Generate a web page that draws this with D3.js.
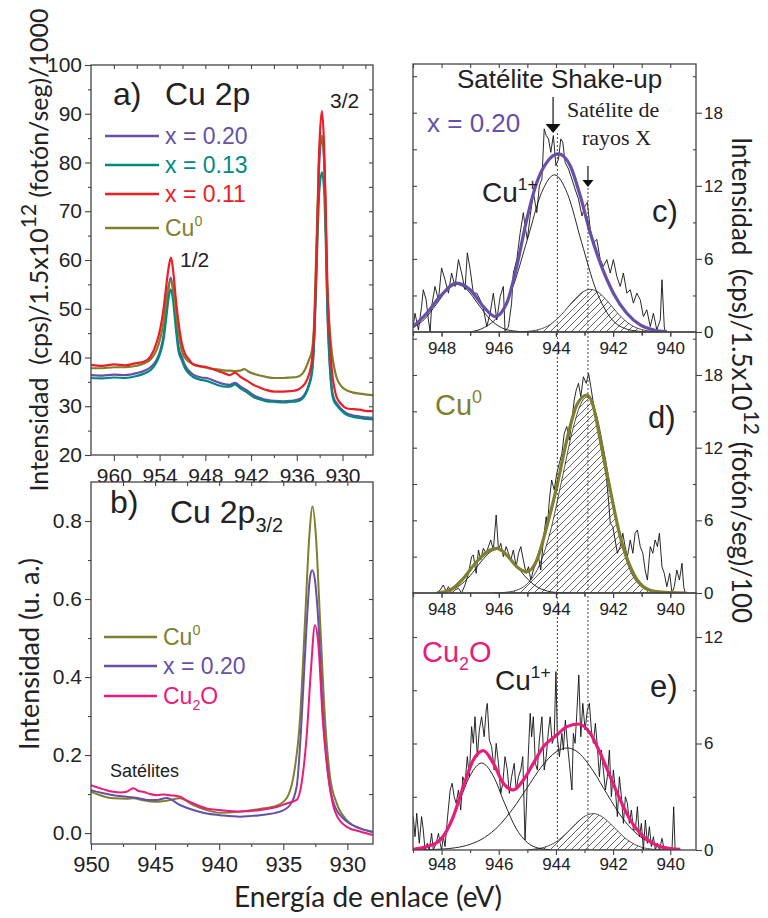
<!DOCTYPE html>
<html><head><meta charset="utf-8">
<script src="https://cdnjs.cloudflare.com/ajax/libs/d3/7.8.5/d3.min.js"></script>
<style>
body{margin:0;background:#fff}
svg text{white-space:pre}
</style></head>
<body><svg id="chart" width="768" height="918" font-family="'Liberation Sans', Arial, sans-serif"></svg>
<script>
// ---------------- DATA ----------------
// Panel a) Cu 2p survey  [binding energy (eV), intensity]
const aRed = [[963,38.5],[961.5,38.3],[960,38.6],[958.5,38.4],[957.2,38.8],[956,39.2],[955.2,40.2],[954.4,43],[953.9,46],[953.5,49.7],[953.1,55],[952.8,58.6],[952.5,60.5],[952.2,57.5],[951.9,52.5],[951.5,47],[951.1,43],[950.7,40.9],[950.1,39.5],[949.6,38.6],[948.6,38.2],[947.8,38],[946.8,37.5],[946.1,37.1],[945.4,36.7],[944.8,36.4],[944.1,36.9],[943.45,36.1],[942.5,35.2],[941.7,34.4],[940.8,33.8],[939.95,33.3],[938.9,33.0],[937.8,33.0],[936.8,33.1],[936,33.3],[935.3,34],[934.9,34.7],[934.4,36.5],[934,39.5],[933.7,46],[933.5,55.3],[933.25,70],[933.05,82.6],[932.7,90.6],[932.4,82.6],[932.2,70],[932,55.3],[931.7,45],[931.4,37.4],[931.1,34],[930.8,32],[930.2,30.5],[929.5,29.6],[928.6,29.4],[927.7,29.3],[926.8,29.0],[926,29.0]];
const aPurple = [[963,36.4],[961.5,36.3],[960,36.5],[958.5,36.4],[957,36.8],[956,37.3],[955.2,38],[954.4,39.5],[953.9,41.5],[953.5,44.3],[953.1,50],[952.85,53.8],[952.55,56.4],[952.25,54],[951.9,48],[951.5,42],[951.1,40.2],[950.7,38.5],[950,37],[949.6,36.5],[948.5,35.9],[947.8,35.8],[946.8,35.2],[946.1,34.8],[945.4,34.5],[944.8,34.4],[944.1,34.8],[943.45,34.1],[942.5,33.2],[941.7,32.3],[940.8,31.7],[939.95,31.3],[938.9,31.1],[937.8,31.0],[936.8,31.1],[936,31.3],[935.3,31.8],[934.9,32.6],[934.4,34.5],[934,37.4],[933.7,45],[933.5,55.3],[933.25,70],[933.05,80],[932.7,85],[932.4,80],[932.2,68],[932,52],[931.7,40],[931.4,33.5],[931.1,31.5],[930.8,30.7],[930.2,29.5],[929.5,28.6],[928.6,28.1],[927.7,27.9],[926.8,27.7],[926,27.6]];
const aTeal = [[963,35.8],[961.5,35.7],[960,35.9],[958.5,35.8],[957,36.2],[956,36.7],[955.2,37.4],[954.4,39],[953.9,41],[953.5,43.5],[953.1,48.5],[952.85,52],[952.55,54],[952.25,52],[951.9,46.5],[951.5,41.2],[951.1,39.5],[950.7,37.9],[950,36.5],[949.6,36],[948.5,35.4],[947.8,35.2],[946.8,34.6],[946.1,34.2],[945.4,34.0],[944.8,34.0],[944.1,34.5],[943.45,33.7],[942.5,32.8],[941.7,31.9],[940.8,31.4],[939.95,31.0],[938.9,30.9],[937.8,30.8],[936.8,30.9],[936,31.0],[935.3,31.5],[934.9,32.3],[934.4,34.2],[934,37],[933.7,44],[933.5,53],[933.25,66],[933.05,74],[932.7,78],[932.4,74],[932.2,64],[932,50],[931.7,39],[931.4,33],[931.1,31],[930.8,30.3],[930.2,29.2],[929.5,28.3],[928.6,27.8],[927.7,27.6],[926.8,27.4],[926,27.3]];
const aOlive = [[963,37.8],[961.5,37.8],[960,38.0],[958.5,38.0],[957,38.3],[956,38.8],[955.2,39.6],[954.4,41.5],[953.9,44],[953.5,47],[953.1,52],[952.85,54.5],[952.55,55.8],[952.25,54.5],[951.9,50],[951.5,45],[951.1,41.5],[950.7,40],[950,39],[949.6,38.6],[948.5,38.1],[947.8,37.9],[946.8,37.6],[946.1,37.5],[945.4,37.3],[944.8,37.3],[944.1,37.2],[943.45,37.3],[942.9,37.6],[942.2,37.0],[941.7,36.7],[940.8,36.3],[939.95,36.0],[938.9,35.8],[937.8,35.8],[936.8,35.9],[936,36.0],[935.3,36.6],[934.9,37.6],[934.4,39.5],[934,41.5],[933.7,48],[933.5,58.6],[933.25,72],[933.05,82.6],[932.7,85.5],[932.4,80],[932.2,68],[932,55],[931.7,46],[931.4,41],[931.1,38],[930.8,36],[930.2,34.2],[929.5,33.3],[928.6,32.8],[927.7,32.6],[926.8,32.4],[926,32.3]];
const aXTicks = [960,954,948,942,936,930];
const aYTicks = [20,30,40,50,60,70,80,90,100];

// Panel b) Cu 2p3/2 normalised
const bOlive = [[950,0.106],[949.3,0.097],[948.26,0.089],[947.22,0.088],[946.7,0.089],[945.92,0.084],[945.14,0.080],[944.1,0.083],[943.06,0.089],[942.02,0.072],[940.98,0.059],[939.94,0.052],[938.38,0.055],[936.82,0.062],[935.52,0.070],[934.73,0.090],[934.21,0.144],[933.7,0.290],[933.3,0.546],[932.97,0.760],[932.71,0.837],[932.45,0.760],[932.13,0.546],[931.74,0.290],[931.35,0.144],[930.83,0.076],[930.05,0.033],[929.01,0.012],[928.02,0.003]];
const bPurple = [[950,0.110],[949.3,0.104],[948.26,0.097],[947.22,0.093],[946.2,0.089],[945.66,0.085],[944.88,0.085],[944.1,0.090],[943.06,0.072],[942.02,0.059],[940.98,0.050],[939.94,0.046],[938.38,0.042],[936.82,0.046],[935.26,0.055],[934.47,0.072],[933.95,0.120],[933.57,0.290],[933.23,0.503],[932.91,0.657],[932.74,0.674],[932.53,0.649],[932.27,0.546],[931.87,0.290],[931.48,0.144],[930.96,0.067],[930.05,0.030],[929.01,0.012],[928.02,0.003]];
const bPink = [[950,0.123],[949.6,0.118],[949.3,0.115],[948.8,0.110],[948.26,0.106],[947.7,0.104],[947.22,0.106],[946.7,0.115],[946.3,0.108],[945.92,0.106],[945.4,0.100],[944.88,0.097],[944.3,0.099],[943.84,0.097],[943.06,0.093],[942.5,0.083],[942.02,0.076],[941.5,0.069],[940.98,0.063],[939.94,0.059],[938.38,0.055],[936.82,0.059],[935.52,0.067],[934.73,0.076],[933.95,0.085],[933.57,0.128],[933.18,0.247],[932.84,0.419],[932.53,0.533],[932.27,0.486],[931.92,0.290],[931.48,0.144],[930.96,0.055],[930.05,0.016],[929.01,0.004],[928.02,-0.005]];
const bXTicks = [950,945,940,935,930];
const bYTicks = [0,0.2,0.4,0.6,0.8];

// Panels c, d, e) satellite region
const rXTicks = [948,946,944,942,940];
const cNoisy = [[948.99,0.44],[948.93,1.54],[948.81,0.17],[948.70,2.09],[948.64,3.47],[948.54,2.64],[948.46,0.99],[948.40,0],[948.35,2.09],[948.23,3.74],[948.11,2.64],[948.00,5.26],[947.88,4.29],[947.76,3.19],[947.65,4.84],[947.53,3.74],[947.41,5.94],[947.30,4.84],[947.18,3.47],[947.10,6.50],[947.00,5.12],[946.89,3.19],[946.77,3.19],[946.65,2.64],[946.54,1.95],[946.42,0.44],[946.30,1.54],[946.19,3.19],[946.07,0.99],[945.95,2.92],[945.84,3.74],[945.78,0.03],[945.66,0.44],[945.55,2.37],[945.49,4.84],[945.37,5.94],[945.25,8.15],[945.14,9.80],[945.08,8.70],[945.00,7.60],[944.90,9.53],[944.79,11.45],[944.67,9.80],[944.58,12.00],[944.49,12.55],[944.41,16.68],[944.34,16.13],[944.26,15.85],[944.18,14.75],[944.09,16.13],[944.00,13.65],[943.91,14.20],[943.83,15.85],[943.76,15.58],[943.68,13.93],[943.56,13.38],[943.44,12.55],[943.33,11.73],[943.21,10.90],[943.09,9.53],[942.98,10.35],[942.90,10.63],[942.80,8.43],[942.69,7.33],[942.57,7.60],[942.45,5.94],[942.34,5.39],[942.22,5.94],[942.10,4.84],[941.99,5.94],[941.87,4.57],[941.75,3.74],[941.64,4.84],[941.52,3.19],[941.40,3.47],[941.29,2.37],[941.17,3.19],[941.05,2.64],[940.94,1.27],[940.82,1.82],[940.70,0.44],[940.59,1.54],[940.47,0.17],[940.35,0.99],[940.29,4.29],[940.21,0.44],[940.18,0.03]];
const cFit = [[948.99,0.44],[948.52,1.54],[948.05,2.92],[947.47,4.02],[947.0,3.47],[946.54,2.09],[946.13,1.27],[945.72,2.37],[945.37,5.39],[945.02,9.25],[944.67,12.28],[944.32,13.93],[943.91,14.62],[943.50,13.65],[943.15,11.18],[942.80,8.15],[942.45,5.67],[941.99,3.19],[941.52,1.54],[941.05,0.58],[940.58,0.17],[940.12,0.03]];
const cPeak1 = [[949.0,0.35],[948.6,1.04],[948.2,2.22],[947.8,3.45],[947.45,3.9],[947.1,3.45],[946.7,2.22],[946.3,1.04],[945.9,0.35],[945.5,0.09],[945.1,0.02],[944.7,0]];
const cPeak2 = [[947.0,0.01],[946.5,0.38],[946.0,1.38],[945.5,3.75],[945.0,7.59],[944.5,11.45],[944.05,12.9],[943.6,11.37],[943.1,7.34],[942.6,3.47],[942.1,1.2],[941.6,0.3],[941.1,0.06],[940.6,0]];
const cSat = [[945.4,0],[945.0,0.05],[944.6,0.2],[944.2,0.61],[943.8,1.44],[943.4,2.54],[943.1,3.23],[942.8,3.5],[942.5,3.23],[942.2,2.54],[941.8,1.44],[941.4,0.61],[941.0,0.2],[940.6,0.05],[940.2,0]];
const cYTicks = [0,6,12,18];

const dNoisy = [[948.17,0],[948.05,0.25],[947.94,0.66],[947.84,0.11],[947.76,0.52],[947.65,0],[947.53,0.25],[947.41,0.39],[947.30,0],[947.18,0.66],[947.06,1.62],[946.95,3.0],[946.89,3.14],[946.79,1.62],[946.71,3.55],[946.63,2.72],[946.54,3.69],[946.44,3.28],[946.36,3.83],[946.28,4.38],[946.19,3.55],[946.09,6.44],[946.01,3.55],[945.93,4.10],[945.84,3.0],[945.74,3.83],[945.66,3.28],[945.58,2.72],[945.49,3.55],[945.39,2.17],[945.31,3.28],[945.23,3.83],[945.14,2.72],[945.04,1.62],[944.96,2.17],[944.88,1.07],[944.79,1.90],[944.69,2.45],[944.61,3.0],[944.53,1.90],[944.44,4.38],[944.34,6.30],[944.30,5.48],[944.23,7.68],[944.15,9.33],[944.06,8.51],[943.97,9.88],[943.88,10.71],[943.79,11.53],[943.71,13.18],[943.62,13.74],[943.53,12.63],[943.44,14.29],[943.36,15.94],[943.29,16.76],[943.21,17.31],[943.13,16.21],[943.04,17.86],[942.94,17.31],[942.86,18.14],[942.78,17.04],[942.69,15.66],[942.59,14.56],[942.51,13.46],[942.43,12.08],[942.34,10.98],[942.24,9.61],[942.16,7.68],[942.10,5.75],[942.01,5.48],[941.93,4.38],[941.85,3.28],[941.75,3.83],[941.66,4.93],[941.58,3.83],[941.50,3.0],[941.40,4.38],[941.31,3.28],[941.23,4.93],[941.15,5.20],[941.05,3.83],[940.96,3.28],[940.88,1.90],[940.80,1.07],[940.70,3.83],[940.61,3.28],[940.53,4.38],[940.45,3.83],[940.38,4.93],[940.29,2.17],[940.21,1.62],[940.12,0.52],[940.02,1.62],[939.94,0],[939.86,0.52],[939.77,1.90],[939.68,1.07],[939.59,2.45],[939.53,0.52],[939.48,0]];
const dFit = [[948.17,0],[947.70,0.25],[947.24,1.2],[946.77,2.6],[946.30,3.55],[946.07,3.69],[945.72,3.14],[945.37,2.17],[945.02,1.76],[944.67,2.72],[944.32,5.48],[943.97,8.78],[943.62,12.63],[943.27,15.52],[942.92,16.35],[942.69,15.39],[942.45,12.63],[942.10,8.5],[941.75,4.65],[941.40,2.17],[940.94,0.52],[940.47,0.11],[940.0,0.03],[939.42,0]];
const dPeak1 = [[948.2,0.03],[947.8,0.16],[947.4,0.56],[947.0,1.43],[946.6,2.64],[946.3,3.38],[946.05,3.6],[945.8,3.38],[945.5,2.64],[945.1,1.43],[944.7,0.56],[944.3,0.16],[943.9,0.03],[943.5,0]];
const dSat = [[946.2,0],[945.8,0.05],[945.4,0.21],[945.0,0.77],[944.6,2.19],[944.2,5.03],[943.8,9.25],[943.4,13.6],[943.1,15.76],[942.9,16.2],[942.6,14.86],[942.3,11.45],[942.0,7.42],[941.7,4.04],[941.4,1.85],[941.0,0.5],[940.6,0.1],[940.2,0.01]];
const dYTicks = [0,6,12,18];

const eNoisy = [[948.99,1.88],[948.93,0.75],[948.87,2.07],[948.78,0.38],[948.70,1.88],[948.64,1.13],[948.58,0],[948.50,0.38],[948.43,0],[948.35,0.94],[948.29,0],[948.19,0.38],[948.11,0.94],[948.05,0.38],[948.00,0],[947.94,0.75],[947.88,0.19],[947.80,1.69],[947.70,3.38],[947.63,3.76],[947.56,3.00],[947.49,2.63],[947.41,3.38],[947.33,2.25],[947.26,4.13],[947.18,3.76],[947.10,5.26],[947.03,4.13],[946.95,6.95],[946.89,6.01],[946.83,7.51],[946.75,5.26],[946.68,6.76],[946.60,7.51],[946.51,6.38],[946.44,7.89],[946.40,8.26],[946.33,6.20],[946.25,5.82],[946.16,4.51],[946.09,6.01],[946.01,4.88],[945.93,3.19],[945.86,3.76],[945.78,5.26],[945.70,4.51],[945.63,3.19],[945.55,4.13],[945.46,4.88],[945.39,3.38],[945.31,4.13],[945.23,4.51],[945.16,5.26],[945.08,0.56],[945.02,3.00],[944.96,5.63],[944.90,7.70],[944.85,6.38],[944.79,7.51],[944.72,4.88],[944.65,4.51],[944.58,6.20],[944.49,7.51],[944.41,4.51],[944.34,5.26],[944.26,6.76],[944.20,7.51],[944.13,6.01],[944.06,6.38],[944.00,10.05],[943.95,6.38],[943.88,5.26],[943.79,6.57],[943.74,5.63],[943.67,7.32],[943.60,6.01],[943.53,4.88],[943.44,3.38],[943.39,6.57],[943.33,6.01],[943.27,7.70],[943.20,9.86],[943.13,6.38],[943.06,8.26],[942.98,6.76],[942.90,7.89],[942.83,8.26],[942.76,6.76],[942.69,6.01],[942.62,7.14],[942.55,5.82],[942.48,4.13],[942.41,5.63],[942.34,4.51],[942.27,3.38],[942.20,4.13],[942.13,5.63],[942.06,3.00],[941.99,4.51],[941.92,3.38],[941.85,1.88],[941.78,4.13],[941.71,3.00],[941.64,1.50],[941.57,3.00],[941.50,2.63],[941.43,1.50],[941.36,2.25],[941.29,1.13],[941.22,1.13],[941.15,2.44],[941.08,0.75],[941.01,1.50],[940.94,0],[940.87,1.69],[940.80,0.38],[940.73,1.31],[940.66,0.19],[940.59,0.75],[940.52,0],[940.45,0.38],[940.38,0],[940.29,0.66],[940.21,0],[940.12,0],[940.03,0.09],[939.94,0],[939.88,2.44],[939.83,0]];
const eFit = [[948.99,0.04],[948.52,0.19],[948.05,0.56],[947.59,1.88],[947.24,3.57],[946.89,5.07],[946.54,5.60],[946.19,4.88],[945.84,3.76],[945.49,3.38],[945.14,3.94],[944.79,4.88],[944.44,5.82],[943.97,6.48],[943.62,6.95],[943.21,7.10],[942.80,6.57],[942.45,5.45],[942.10,4.13],[941.75,2.82],[941.40,1.69],[941.05,0.94],[940.70,0.47],[940.35,0.19],[940.0,0.08],[939.65,0.04]];
const ePeak1 = [[948.6,0.10],[948.2,0.42],[947.8,1.23],[947.4,2.65],[947.0,4.2],[946.6,4.9],[946.2,4.2],[945.8,2.65],[945.4,1.23],[945.0,0.42],[944.6,0.10],[944.2,0.02]];
const ePeak2 = [[948.9,0.01],[948.5,0.02],[948.0,0.05],[947.5,0.13],[947.0,0.32],[946.5,0.70],[946.0,1.36],[945.5,2.34],[945.0,3.52],[944.5,4.7],[944.0,5.52],[943.6,5.75],[943.2,5.47],[942.7,4.46],[942.2,3.12],[941.7,1.86],[941.2,0.95],[940.7,0.41],[940.2,0.155],[939.7,0.05]];
const eSat = [[945.0,0],[944.8,0.04],[944.4,0.16],[944.0,0.45],[943.6,1.0],[943.2,1.64],[942.9,1.98],[942.7,2.05],[942.4,1.89],[942.0,1.33],[941.6,0.70],[941.2,0.28],[940.8,0.08],[940.4,0.02],[940.0,0]];
const eYTicks = [0,6,12];

const refLines = [943.95, 942.88];     // dotted reference energies
const arrowShake = 944.1, arrowXray = 942.88;

// ---------------- COLOURS ----------------
const C = {purple:"#6650A8", teal:"#008A7E", red:"#EE1D25", olive:"#7F7F2E", pink:"#EA1B7B", axis:"#444", txt:"#222"};
const LATO = "Lato, 'Open Sans', sans-serif";
const ARIAL = "'Liberation Sans', Arial, sans-serif";
const SERIF = "'Liberation Serif', 'Times New Roman', serif";

// ---------------- SETUP ----------------
const svg = d3.select("#chart");
const defs = svg.append("defs");
defs.append("pattern").attr("id","hatch").attr("patternUnits","userSpaceOnUse").attr("width",7).attr("height",7)
  .append("path").attr("d","M-1,1 l2,-2 M0,7 l7,-7 M6,8 l2,-2").attr("stroke","#222").attr("stroke-width",0.7);

function clipRect(id, x, y) {
  defs.append("clipPath").attr("id", id).append("rect")
    .attr("x", x.range()[0]).attr("y", y.range()[1])
    .attr("width", x.range()[1]-x.range()[0]).attr("height", y.range()[0]-y.range()[1]);
}
function addAxis(gen, tx, ty, fs) {
  const g = svg.append("g").attr("transform", `translate(${tx},${ty})`).call(gen);
  g.attr("font-family", ARIAL);
  g.select(".domain").remove();
  g.selectAll("line").attr("stroke", C.axis).attr("stroke-width", 1.1);
  g.selectAll("text").attr("font-size", fs).attr("fill", C.txt);
  return g;
}
function frame(x, y) {
  svg.append("rect").attr("x", x.range()[0]).attr("y", y.range()[1])
    .attr("width", x.range()[1]-x.range()[0]).attr("height", y.range()[0]-y.range()[1])
    .attr("fill", "none").attr("stroke", C.axis).attr("stroke-width", 1.3);
}
function line(g, data, x, y, color, w, curve) {
  g.append("path").datum(data).attr("fill","none").attr("stroke",color).attr("stroke-width",w)
    .attr("stroke-linejoin","round")
    .attr("d", d3.line().x(d=>x(d[0])).y(d=>y(d[1])).curve(curve || d3.curveLinear));
}
function hatchArea(g, data, x, y) {
  g.append("path").datum(data).attr("fill","url(#hatch)").attr("stroke","#222").attr("stroke-width",0.8)
    .attr("d", d3.area().x(d=>x(d[0])).y0(y(0)).y1(d=>y(d[1])).curve(d3.curveMonotoneX));
}
function txt(x, y, s, fs, color, family) {
  const t = svg.append("text").attr("x", x).attr("y", y).attr("font-size", fs).attr("fill", color || C.txt);
  if (family) t.attr("font-family", family);
  return t.text(s);
}
function richTxt(x, y, parts, fs, color, family) {
  const t = svg.append("text").attr("x", x).attr("y", y).attr("font-size", fs).attr("fill", color || C.txt);
  if (family) t.attr("font-family", family);
  let shift = 0;
  parts.forEach(([s, m]) => {
    const target = m === "sup" ? -fs*0.42 : m === "sub" ? fs*0.28 : 0;
    t.append("tspan").attr("dy", target - shift).attr("font-size", m ? fs*0.62 : fs).text(s);
    shift = target;
  });
  return t;
}

// ================= PANEL A =================
const xA = d3.scaleLinear().domain([963, 926]).range([91, 373]);
const yA = d3.scaleLinear().domain([20, 100]).range([455, 65]);
clipRect("clipA", xA, yA);
const gA = svg.append("g").attr("clip-path","url(#clipA)");
line(gA, aPurple, xA, yA, C.purple, 2.2, d3.curveMonotoneX);
line(gA, aTeal, xA, yA, C.teal, 2.2, d3.curveMonotoneX);
line(gA, aOlive, xA, yA, C.olive, 2.2, d3.curveMonotoneX);
line(gA, aRed, xA, yA, C.red, 2.2, d3.curveMonotoneX);
frame(xA, yA);
addAxis(d3.axisBottom(xA).tickValues(aXTicks).tickSize(6).tickPadding(7).tickFormat(d3.format("d")), 0, 455, 21);
addAxis(d3.axisBottom(xA).tickValues([957,951,945,939,933,927]).tickSize(3).tickFormat(""), 0, 455, 21);
addAxis(d3.axisTop(xA).tickValues(aXTicks.concat([957,951,945,939,933,927])).tickSize(-4).tickFormat(""), 0, 65, 21);
addAxis(d3.axisLeft(yA).tickValues(aYTicks).tickSize(6).tickPadding(3).tickFormat(d3.format("d")), 91, 0, 21);
addAxis(d3.axisLeft(yA).tickValues([25,35,45,55,65,75,85,95]).tickSize(3).tickFormat(""), 91, 0, 21);
addAxis(d3.axisRight(yA).tickValues([25,30,35,40,45,50,55,60,65,70,75,80,85,90,95]).tickSize(-4).tickFormat(""), 373, 0, 21);

txt(113, 105, "a)", 32);
txt(165, 105, "Cu 2p", 32);
txt(330, 108, "3/2", 21);
txt(180, 267, "1/2", 21);
const legA = [["x = 0.20", C.purple], ["x = 0.13", C.teal], ["x = 0.11", C.red], ["Cu", C.olive]];
const legAy = [136, 165, 194, 228];
legA.forEach(([s, c], i) => {
  svg.append("line").attr("x1",105).attr("x2",159).attr("y1",legAy[i]).attr("y2",legAy[i]).attr("stroke",c).attr("stroke-width",2.5);
  if (i < 3) txt(165, legAy[i]+8, s, 23, c);
  else richTxt(165, legAy[i]+8, [["Cu",""],["0","sup"]], 23, c);
});

// ================= PANEL B =================
const xB = d3.scaleLinear().domain([950, 928]).range([91, 373]);
const yB = d3.scaleLinear().domain([-0.028, 0.9]).range([844, 482]);
svg.append("rect").attr("x",91).attr("y",482).attr("width",282).attr("height",362).attr("fill","#fff");
clipRect("clipB", xB, yB);
const gB = svg.append("g").attr("clip-path","url(#clipB)");
line(gB, bOlive, xB, yB, C.olive, 2, d3.curveMonotoneX);
line(gB, bPurple, xB, yB, C.purple, 2, d3.curveMonotoneX);
line(gB, bPink, xB, yB, C.pink, 2, d3.curveMonotoneX);
frame(xB, yB);
addAxis(d3.axisBottom(xB).tickValues(bXTicks).tickSize(6).tickPadding(6).tickFormat(d3.format("d")), 0, 844, 22);
addAxis(d3.axisBottom(xB).tickValues([947.5,942.5,937.5,932.5]).tickSize(3).tickFormat(""), 0, 844, 22);
addAxis(d3.axisTop(xB).tickValues([947.5,945,942.5,940,937.5,935,932.5,930]).tickSize(-4).tickFormat(""), 0, 482, 22);
addAxis(d3.axisLeft(yB).tickValues(bYTicks).tickSize(6).tickPadding(3).tickFormat(d3.format(".1f")), 91, 0, 21);
addAxis(d3.axisLeft(yB).tickValues([0.1,0.3,0.5,0.7]).tickSize(3).tickFormat(""), 91, 0, 21);
addAxis(d3.axisRight(yB).tickValues([0.1,0.2,0.3,0.4,0.5,0.6,0.7,0.8]).tickSize(-4).tickFormat(""), 373, 0, 21);

txt(110, 513, "b)", 32);
richTxt(170, 523, [["Cu 2p",""],["3/2","sub"]], 32);
const legB = [[C.olive, [["Cu",""],["0","sup"]]], [C.purple, [["x = 0.20",""]]], [C.pink, [["Cu",""],["2","sub"],["O",""]]]];
const legBy = [637, 666, 696];
legB.forEach(([c, parts], i) => {
  svg.append("line").attr("x1",104).attr("x2",157).attr("y1",legBy[i]).attr("y2",legBy[i]).attr("stroke",c).attr("stroke-width",2.5);
  richTxt(163, legBy[i]+8, parts, 23, c);
});
txt(110, 777, "Satélites", 18);

// ================= RIGHT PANELS =================
const xR = d3.scaleLinear().domain([949, 939.1]).range([413, 696]);
const yC = d3.scaleLinear().domain([0, 22]).range([332, 64]);
const yD = d3.scaleLinear().domain([0, 21.55]).range([593, 332]);
const yE = d3.scaleLinear().domain([0, 14.48]).range([850, 593]);
const minorX = [949,947,945,943,941];
const allX = [949,948,947,946,945,944,943,942,941,940];

function rightPanel(id, y, noisy, fit, peaks, sat, color, yTicks, yMinor, pad) {
  clipRect(id, xR, y);
  const g = svg.append("g").attr("clip-path", `url(#${id})`);
  line(g, noisy, xR, y, "#111", 0.9);
  hatchArea(g, sat, xR, y);
  peaks.forEach(p => line(g, p, xR, y, "#111", 0.9, d3.curveMonotoneX));
  line(g, fit, xR, y, color, 3.2, d3.curveMonotoneX);
  frame(xR, y);
  const y0 = y.range()[0], y1 = y.range()[1];
  addAxis(d3.axisBottom(xR).tickValues(rXTicks).tickSize(5).tickPadding(pad).tickFormat(d3.format("d")), 0, y0, 17);
  addAxis(d3.axisBottom(xR).tickValues(minorX).tickSize(3).tickFormat(""), 0, y0, 17);
  addAxis(d3.axisTop(xR).tickValues(allX).tickSize(-4).tickFormat(""), 0, y1, 17);
  addAxis(d3.axisLeft(y).tickValues(yMinor.concat(yTicks.slice(1))).tickSize(-4).tickFormat(""), 413, 0, 17);
  addAxis(d3.axisRight(y).tickValues(yTicks).tickSize(6).tickPadding(2).tickFormat(d3.format("d")), 696, 0, 17);
  addAxis(d3.axisRight(y).tickValues(yMinor).tickSize(-3).tickFormat(""), 696, 0, 17);
}
rightPanel("clipC", yC, cNoisy, cFit, [cPeak1, cPeak2], cSat, C.purple, cYTicks, [3,9,15,21], 5);
rightPanel("clipD", yD, dNoisy, dFit, [dPeak1], dSat, C.olive, dYTicks, [3,9,15,21], 5);
rightPanel("clipE", yE, eNoisy, eFit, [ePeak1, ePeak2], eSat, C.pink, eYTicks, [3,9], 3);

// dotted reference lines across c-e
const refTop = [133, 188];
refLines.forEach((e, i) => {
  svg.append("line").attr("x1", xR(e)).attr("x2", xR(e)).attr("y1", refTop[i]).attr("y2", yE(0))
    .attr("stroke", "#444").attr("stroke-width", 1).attr("stroke-dasharray", "2,2");
});
function arrow(e, yTop, yTip, headW, headH) {
  const x = xR(e);
  svg.append("line").attr("x1", x).attr("x2", x).attr("y1", yTop).attr("y2", yTip - headH).attr("stroke", "#111").attr("stroke-width", 1.2);
  svg.append("path").attr("d", `M${x-headW/2},${yTip-headH} L${x+headW/2},${yTip-headH} L${x},${yTip} Z`).attr("fill", "#111");
}
arrow(arrowShake, 97, 133, 15, 9);
arrow(arrowXray, 166, 187, 11, 7);

// panel c texts
txt(457, 88, "Satélite Shake-up", 26);
txt(427, 132, "x = 0.20", 26, C.purple);
txt(567, 117, "Satélite de", 22, C.txt, SERIF);
txt(582, 145, "rayos X", 22, C.txt, SERIF);
richTxt(482, 202, [["Cu",""],["1+","sup"]], 28);
txt(652, 222, "c)", 31);
// panel d texts
richTxt(435, 415, [["Cu",""],["0","sup"]], 29, C.olive);
txt(648, 428, "d)", 31);
// panel e texts
richTxt(422, 662, [["Cu",""],["2","sub"],["O",""]], 29, C.pink);
richTxt(495, 690, [["Cu",""],["1+","sup"]], 28);
txt(650, 697, "e)", 31);

// ================= AXIS TITLES =================
const lt = svg.append("text").attr("transform","translate(48,250) rotate(-90)").attr("text-anchor","middle")
  .attr("font-size", 25).attr("font-family", LATO).attr("fill", C.txt);
lt.append("tspan").text("Intensidad\u00a0 (cps)/1.5x10");
lt.append("tspan").attr("dy", -12).attr("font-size", 21).text("12");
lt.append("tspan").attr("dy", 12).text(" (fotón/seg)/1000");

svg.append("text").attr("transform","translate(39,654) rotate(-90)").attr("text-anchor","middle")
  .attr("font-size", 27).attr("font-family", LATO).attr("fill", C.txt).text("Intensidad (u. a.)");

const rt = svg.append("text").attr("transform","translate(732,380) rotate(90)").attr("text-anchor","middle")
  .attr("font-size", 26).attr("font-family", LATO).attr("fill", C.txt);
rt.append("tspan").text("Intensidad\u00a0 (cps)/1.5x10");
rt.append("tspan").attr("dy", -12).attr("font-size", 21).text("12");
rt.append("tspan").attr("dy", 12).text(" (fotón/seg)/100");

svg.append("text").attr("x", 368).attr("y", 907).attr("text-anchor","middle")
  .attr("font-size", 28).attr("font-family", LATO).attr("fill", C.txt).text("Energía de enlace (eV)");
</script></body></html>
